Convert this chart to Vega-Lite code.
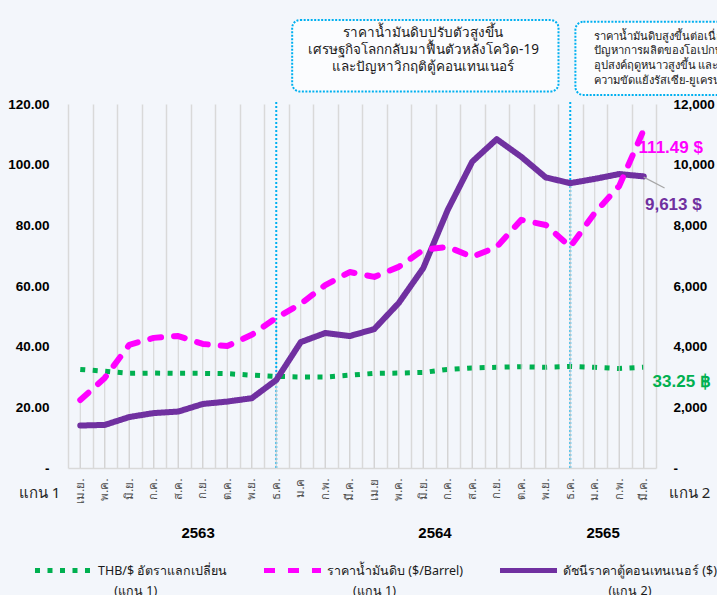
{
  "$schema": "https://vega.github.io/schema/vega-lite/v6.json",
  "width": 588,
  "height": 364,
  "autosize": {"type": "none"},
  "padding": {"left": 68, "top": 104, "right": 61, "bottom": 127},
  "background": "#f3f6fb",
  "config": {"font": "Noto Sans", "view": {"stroke": null}, "style": {"guide-label": {"lineHeight": 20}}},
  "data": {"values": [
    {"i": 0, "m": "เม.ย.", "thb": 32.5, "oil": 22.4, "box": 1400},
    {"i": 1, "m": "พ.ค.", "thb": 31.9, "oil": 29.7, "box": 1420},
    {"i": 2, "m": "มิ.ย.", "thb": 31.2, "oil": 40.6, "box": 1680},
    {"i": 3, "m": "ก.ค.", "thb": 31.3, "oil": 42.9, "box": 1810},
    {"i": 4, "m": "ส.ค.", "thb": 31.2, "oil": 43.5, "box": 1860},
    {"i": 5, "m": "ก.ย.", "thb": 31.2, "oil": 40.9, "box": 2110},
    {"i": 6, "m": "ต.ค.", "thb": 31.1, "oil": 40.2, "box": 2190},
    {"i": 7, "m": "พ.ย.", "thb": 30.6, "oil": 43.9, "box": 2300},
    {"i": 8, "m": "ธ.ค.", "thb": 30.2, "oil": 49.5, "box": 2900},
    {"i": 9, "m": "ม.ค", "thb": 30.0, "oil": 54.1, "box": 4150},
    {"i": 10, "m": "ก.พ.", "thb": 30.0, "oil": 60.3, "box": 4450},
    {"i": 11, "m": "มี.ค.", "thb": 30.6, "oil": 64.6, "box": 4350},
    {"i": 12, "m": "เม.ย", "thb": 31.2, "oil": 63.0, "box": 4580},
    {"i": 13, "m": "พ.ค.", "thb": 31.3, "oil": 66.3, "box": 5440},
    {"i": 14, "m": "มิ.ย.", "thb": 31.5, "oil": 71.9, "box": 6590},
    {"i": 15, "m": "ก.ค.", "thb": 32.5, "oil": 72.9, "box": 8510},
    {"i": 16, "m": "ส.ค.", "thb": 33.0, "oil": 69.6, "box": 10100},
    {"i": 17, "m": "ก.ย.", "thb": 33.2, "oil": 72.9, "box": 10840},
    {"i": 18, "m": "ต.ค.", "thb": 33.4, "oil": 81.8, "box": 10260},
    {"i": 19, "m": "พ.ย.", "thb": 33.2, "oil": 80.1, "box": 9580},
    {"i": 20, "m": "ธ.ค.", "thb": 33.5, "oil": 72.9, "box": 9390},
    {"i": 21, "m": "ม.ค.", "thb": 33.2, "oil": 84.1, "box": 9530},
    {"i": 22, "m": "ก.พ.", "thb": 32.8, "oil": 93.0, "box": 9690},
    {"i": 23, "m": "มี.ค.", "thb": 33.25, "oil": 111.49, "box": 9613}
  ]},
  "layer": [
    {
      "layer": [
        {
          "transform": [{"fold": ["thb", "oil", "box"], "as": ["s", "v"]}, {"filter": "datum.s == 'oil'"}],
          "mark": {"type": "rule", "color": "#d2d2d2", "strokeWidth": 1},
          "encoding": {
            "x": {"field": "i", "type": "quantitative", "scale": {"domain": [-0.5, 23.5], "nice": false, "zero": false},
              "axis": {"orient": "top", "values": [-0.5, 0.5, 1.5, 2.5, 3.5, 4.5, 5.5, 6.5, 7.5, 8.5, 9.5, 10.5, 11.5, 12.5, 13.5, 14.5, 15.5, 16.5, 17.5, 18.5, 19.5, 20.5, 21.5, 22.5, 23.5],
                "grid": true, "gridColor": "#d9d9d9", "gridWidth": 1.5, "labels": false, "ticks": false, "domain": false, "title": null}},
            "y": {"field": "v", "type": "quantitative", "scale": {"domain": [0, 120], "nice": false},
              "axis": {"orient": "left", "values": [0, 20, 40, 60, 80, 100, 120],
                "labelExpr": "datum.value == 0 ? '-' : format(datum.value, '.2f')",
                "labelFont": "Liberation Sans", "labelFontSize": 13.5, "labelFontWeight": "bold", "labelColor": "#000000", "labelPadding": 19,
                "labelFlush": false, "labelBound": false, "labelOverlap": false,
                "ticks": false, "domain": false, "grid": false,
                "title": "แกน 1", "titleAngle": 0, "titleX": -29, "titleY": 388, "titleAlign": "center", "titleBaseline": "middle",
                "titleFontSize": 15, "titleFontWeight": "normal", "titleColor": "#262626"}},
            "y2": {"datum": 0}
          }
        },
        {
          "data": {"values": [{"i": 8}, {"i": 20}]},
          "mark": {"type": "rule", "color": "#00b0f0", "strokeDash": [2, 2], "strokeWidth": 2},
          "encoding": {
            "x": {"field": "i", "type": "quantitative", "scale": {"domain": [-0.5, 23.5], "nice": false, "zero": false}, "axis": null},
            "y": {"datum": 0, "type": "quantitative", "scale": {"domain": [0, 120], "nice": false}, "axis": null},
            "y2": {"datum": 121}
          }
        },
        {
          "transform": [{"fold": ["thb", "oil", "box"], "as": ["s", "v"]}, {"filter": "datum.s == 'thb'"}],
          "mark": {"type": "line", "strokeWidth": 5, "strokeCap": "butt"},
          "encoding": {
            "x": {"field": "i", "type": "quantitative", "scale": {"domain": [-0.5, 23.5], "nice": false, "zero": false},
              "axis": {"orient": "bottom", "values": [0, 1, 2, 3, 4, 5, 6, 7, 8, 9, 10, 11, 12, 13, 14, 15, 16, 17, 18, 19, 20, 21, 22, 23],
                "labelExpr": "['เม.ย.','พ.ค.','มิ.ย.','ก.ค.','ส.ค.','ก.ย.','ต.ค.','พ.ย.','ธ.ค.','ม.ค','ก.พ.','มี.ค.','เม.ย','พ.ค.','มิ.ย.','ก.ค.','ส.ค.','ก.ย.','ต.ค.','พ.ย.','ธ.ค.','ม.ค.','ก.พ.','มี.ค.'][datum.value]",
                "labelAngle": 270, "labelPadding": 10, "labelFontSize": 11.5, "labelColor": "#4d4d4d", "labelFlush": false, "labelOverlap": false,
                "ticks": false, "grid": false, "domain": true, "domainColor": "#d9d9d9", "domainWidth": 1.5, "title": null}},
            "y": {"field": "v", "type": "quantitative", "scale": {"domain": [0, 120], "nice": false}, "axis": null},
            "color": {"field": "s", "type": "nominal", "scale": {"domain": ["thb", "oil", "box"], "range": ["#00b050", "#ff00ff", "#7030a0"]},
              "legend": {"orient": "none", "legendX": -36, "legendY": 435, "direction": "horizontal", "columns": 3, "gridAlign": "none", "columnPadding": 25,
                "title": null, "symbolType": "stroke", "symbolSize": 3250, "symbolStrokeWidth": 5, "labelFontSize": 12.5, "labelColor": "#1a1a1a",
                "labelLimit": 400, "labelOffset": 3,
                "labelExpr": "datum.label == 'thb' ? ['THB/$ อัตราแลกเปลี่ยน', '\u200b\u00a0\u00a0\u00a0\u00a0\u00a0(แกน 1)'] : datum.label == 'oil' ? ['ราคาน้ำมันดิบ ($/Barrel)', '\u200b\u00a0\u00a0\u00a0\u00a0\u00a0\u00a0\u00a0\u00a0(แกน 1)'] : ['ดัชนีราคาตู้คอนเทนเนอร์ ($)', '\u200b\u00a0\u00a0\u00a0\u00a0\u00a0\u00a0\u00a0\u00a0\u00a0\u00a0\u00a0\u00a0\u00a0\u00a0(แกน 2)']"}},
            "strokeDash": {"field": "s", "type": "nominal", "scale": {"domain": ["thb", "oil", "box"], "range": [[5, 7.5], [11, 13], [1, 0]]},
              "legend": {"orient": "none", "legendX": -36, "legendY": 435, "direction": "horizontal", "columns": 3, "gridAlign": "none", "columnPadding": 25,
                "title": null, "symbolType": "stroke", "symbolSize": 3250, "symbolStrokeWidth": 5, "labelFontSize": 12.5, "labelColor": "#1a1a1a",
                "labelLimit": 400, "labelOffset": 3,
                "labelExpr": "datum.label == 'thb' ? ['THB/$ อัตราแลกเปลี่ยน', '\u200b\u00a0\u00a0\u00a0\u00a0\u00a0(แกน 1)'] : datum.label == 'oil' ? ['ราคาน้ำมันดิบ ($/Barrel)', '\u200b\u00a0\u00a0\u00a0\u00a0\u00a0\u00a0\u00a0\u00a0(แกน 1)'] : ['ดัชนีราคาตู้คอนเทนเนอร์ ($)', '\u200b\u00a0\u00a0\u00a0\u00a0\u00a0\u00a0\u00a0\u00a0\u00a0\u00a0\u00a0\u00a0\u00a0\u00a0(แกน 2)']"}}
          }
        }
      ],
      "resolve": {"axis": {"x": "independent", "y": "independent"}}
    },
    {
      "layer": [
        {
          "transform": [{"fold": ["thb", "oil", "box"], "as": ["s", "v"]}, {"filter": "datum.s == 'box'"}],
          "mark": {"type": "rule", "color": "#d2d2d2", "strokeWidth": 1},
          "encoding": {
            "x": {"field": "i", "type": "quantitative", "scale": {"domain": [-0.5, 23.5], "nice": false, "zero": false}, "axis": null},
            "y": {"field": "v", "type": "quantitative", "scale": {"domain": [0, 12000], "nice": false},
              "axis": {"orient": "right", "values": [0, 2000, 4000, 6000, 8000, 10000, 12000],
                "labelExpr": "datum.value == 0 ? '-' : format(datum.value, ',')",
                "labelFont": "Liberation Sans", "labelFontSize": 13.5, "labelFontWeight": "bold", "labelColor": "#000000", "labelPadding": 17,
                "labelFlush": false, "labelBound": false, "labelOverlap": false,
                "ticks": false, "domain": false, "grid": false,
                "title": "แกน 2", "titleAngle": 0, "titleX": 33, "titleY": 388, "titleAlign": "center", "titleBaseline": "middle",
                "titleFontSize": 15, "titleFontWeight": "normal", "titleColor": "#262626"}},
            "y2": {"datum": 0}
          }
        },
        {
          "transform": [{"fold": ["thb", "oil", "box"], "as": ["s", "v"]}, {"filter": "datum.s == 'box'"}],
          "mark": {"type": "line", "strokeWidth": 6, "strokeCap": "round", "strokeJoin": "round"},
          "encoding": {
            "x": {"field": "i", "type": "quantitative", "scale": {"domain": [-0.5, 23.5], "nice": false, "zero": false}, "axis": null},
            "y": {"field": "v", "type": "quantitative", "scale": {"domain": [0, 12000], "nice": false}, "axis": null},
            "color": {"field": "s", "type": "nominal", "scale": {"domain": ["thb", "oil", "box"], "range": ["#00b050", "#ff00ff", "#7030a0"]}},
            "strokeDash": {"field": "s", "type": "nominal", "scale": {"domain": ["thb", "oil", "box"], "range": [[5, 7.5], [11, 13], [1, 0]]}}
          }
        }
      ],
      "resolve": {"axis": {"x": "independent", "y": "independent"}}
    },
    {
      "layer": [
        {
          "transform": [{"fold": ["thb", "oil", "box"], "as": ["s", "v"]}, {"filter": "datum.s == 'oil'"}],
          "mark": {"type": "line", "strokeWidth": 6, "strokeCap": "round", "strokeJoin": "round"},
          "encoding": {
            "x": {"field": "i", "type": "quantitative", "scale": {"domain": [-0.5, 23.5], "nice": false, "zero": false},
              "axis": {"orient": "bottom", "values": [4.79, 14.46, 21.32],
                "labelExpr": "datum.value < 10 ? '2563' : datum.value < 20 ? '2564' : '2565'",
                "labelAngle": 0, "labelPadding": 57, "labelFont": "Liberation Sans", "labelFontSize": 15, "labelFontWeight": "bold", "labelColor": "#000000",
                "labelFlush": false, "labelOverlap": false, "ticks": false, "grid": false, "domain": false, "title": null}},
            "y": {"field": "v", "type": "quantitative", "scale": {"domain": [0, 120], "nice": false}, "axis": null},
            "color": {"field": "s", "type": "nominal", "scale": {"domain": ["thb", "oil", "box"], "range": ["#00b050", "#ff00ff", "#7030a0"]}},
            "strokeDash": {"field": "s", "type": "nominal", "scale": {"domain": ["thb", "oil", "box"], "range": [[5, 7.5], [11, 13], [1, 0]]}}
          }
        },
        {
          "data": {"values": [{}]},
          "mark": {"type": "rect", "fill": "#fbfcfe", "stroke": "#00b0f0", "strokeWidth": 2, "strokeDash": [2, 1.5], "cornerRadius": 8},
          "encoding": {
            "x": {"datum": 8.65, "type": "quantitative", "scale": {"domain": [-0.5, 23.5], "nice": false, "zero": false}, "axis": null},
            "x2": {"datum": 19.52},
            "y": {"datum": 147.7, "type": "quantitative", "scale": {"domain": [0, 120], "nice": false}, "axis": null},
            "y2": {"datum": 124.1}
          }
        },
        {
          "data": {"values": [{}]},
          "mark": {"type": "rect", "fill": "#fbfcfe", "stroke": "#00b0f0", "strokeWidth": 2, "strokeDash": [2, 1.5], "cornerRadius": 8},
          "encoding": {
            "x": {"datum": 20.21, "type": "quantitative", "scale": {"domain": [-0.5, 23.5], "nice": false, "zero": false}, "axis": null},
            "x2": {"datum": 27},
            "y": {"datum": 147.1, "type": "quantitative", "scale": {"domain": [0, 120], "nice": false}, "axis": null},
            "y2": {"datum": 123.0}
          }
        },
        {
          "data": {"values": [{}]},
          "mark": {"type": "text", "text": ["ราคาน้ำมันดิบปรับตัวสูงขึ้น", "เศรษฐกิจโลกกลับมาฟื้นตัวหลังโควิด-19", "และปัญหาวิกฤติตู้คอนเทนเนอร์"],
            "align": "center", "baseline": "middle", "fontSize": 13.5, "lineHeight": 16.7, "color": "#1a1a1a"},
          "encoding": {
            "x": {"datum": 14.01, "type": "quantitative", "scale": {"domain": [-0.5, 23.5], "nice": false, "zero": false}, "axis": null},
            "y": {"datum": 143.3, "type": "quantitative", "scale": {"domain": [0, 120], "nice": false}, "axis": null}
          }
        },
        {
          "data": {"values": [{}]},
          "mark": {"type": "text", "text": ["ราคาน้ำมันดิบสูงขึ้นต่อเนื่องจาก", "ปัญหาการผลิตของโอเปกพลัส", "อุปสงค์ฤดูหนาวสูงขึ้น และ", "ความขัดแย้งรัสเซีย-ยูเครน"],
            "align": "left", "baseline": "middle", "fontSize": 11.2, "lineHeight": 14.7, "color": "#1a1a1a"},
          "encoding": {
            "x": {"datum": 20.95, "type": "quantitative", "scale": {"domain": [-0.5, 23.5], "nice": false, "zero": false}, "axis": null},
            "y": {"datum": 142.2, "type": "quantitative", "scale": {"domain": [0, 120], "nice": false}, "axis": null}
          }
        },
        {
          "data": {"values": [{}]},
          "mark": {"type": "rule", "color": "#a6a6a6", "strokeWidth": 1.2},
          "encoding": {
            "x": {"datum": 23, "type": "quantitative", "scale": {"domain": [-0.5, 23.5], "nice": false, "zero": false}, "axis": null},
            "x2": {"datum": 23.85},
            "y": {"datum": 95.9, "type": "quantitative", "scale": {"domain": [0, 120], "nice": false}, "axis": null},
            "y2": {"datum": 92.3}
          }
        },
        {
          "data": {"values": [{}]},
          "mark": {"type": "text", "text": "111.49 $", "align": "left", "baseline": "middle", "font": "Liberation Sans", "fontSize": 17, "fontWeight": "bold", "color": "#ff00ff"},
          "encoding": {
            "x": {"datum": 22.79, "type": "quantitative", "scale": {"domain": [-0.5, 23.5], "nice": false, "zero": false}, "axis": null},
            "y": {"datum": 105.6, "type": "quantitative", "scale": {"domain": [0, 120], "nice": false}, "axis": null}
          }
        },
        {
          "data": {"values": [{}]},
          "mark": {"type": "text", "text": "9,613 $", "align": "left", "baseline": "middle", "font": "Liberation Sans", "fontSize": 17, "fontWeight": "bold", "color": "#7030a0"},
          "encoding": {
            "x": {"datum": 23.05, "type": "quantitative", "scale": {"domain": [-0.5, 23.5], "nice": false, "zero": false}, "axis": null},
            "y": {"datum": 86.7, "type": "quantitative", "scale": {"domain": [0, 120], "nice": false}, "axis": null}
          }
        },
        {
          "data": {"values": [{}]},
          "mark": {"type": "text", "text": "33.25 ฿", "align": "left", "baseline": "middle", "font": "Liberation Sans", "fontSize": 17, "fontWeight": "bold", "color": "#00b050"},
          "encoding": {
            "x": {"datum": 23.36, "type": "quantitative", "scale": {"domain": [-0.5, 23.5], "nice": false, "zero": false}, "axis": null},
            "y": {"datum": 28.5, "type": "quantitative", "scale": {"domain": [0, 120], "nice": false}, "axis": null}
          }
        }
      ],
      "resolve": {"axis": {"x": "independent", "y": "independent"}}
    }
  ],
  "resolve": {"scale": {"y": "independent"}, "axis": {"x": "independent", "y": "independent"}}
}
